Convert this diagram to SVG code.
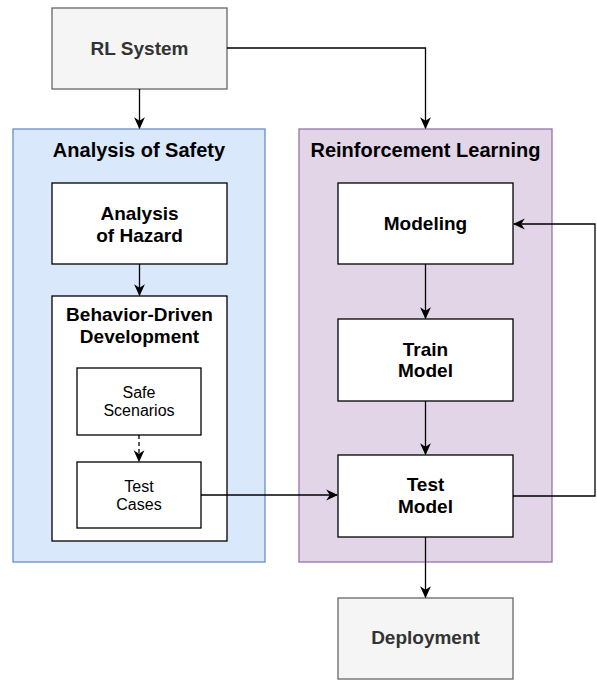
<svg xmlns="http://www.w3.org/2000/svg" width="597" height="681" viewBox="0 0 597 681">
<defs>
<style>
.t{font-family:"Liberation Sans",Arial,sans-serif;font-weight:bold;font-size:19px;text-anchor:middle;fill:#000}
.g{fill:#333}
.h{font-family:"Liberation Sans",Arial,sans-serif;font-weight:bold;font-size:20px;text-anchor:middle;fill:#000}
.r{font-family:"Liberation Sans",Arial,sans-serif;font-size:16px;text-anchor:middle;fill:#000}
.box{fill:#fff;stroke:#000;stroke-width:1.3}
.gbox{fill:#f5f5f5;stroke:#666;stroke-width:1.3}
.c{fill:none;stroke:#000;stroke-width:1.3}
</style>
<marker id="a" viewBox="0 0 10 10" refX="9" refY="5" markerWidth="12" markerHeight="12" markerUnits="userSpaceOnUse" orient="auto">
<path d="M0,0.5 L10,5 L0,9.5 L3,5 Z" fill="#000"/>
</marker>
</defs>
<g id="safety">
<rect x="13" y="129" width="252" height="433" fill="#dae8fc" stroke="#6c8ebf" stroke-width="1.3"/>
<text class="h" x="139" y="157">Analysis of Safety</text>
</g>
<g id="rl">
<rect x="299" y="129" width="253" height="433" fill="#e1d5e7" stroke="#9673a6" stroke-width="1.3"/>
<text class="h" x="425.5" y="157">Reinforcement Learning</text>
</g>
<g id="rlsystem">
<rect class="gbox" x="52" y="8" width="175" height="81"/>
<text class="t g" x="139.5" y="55">RL System</text>
</g>
<g id="hazard">
<rect class="box" x="52" y="183" width="175" height="81"/>
<text class="t" x="139.5" y="220">Analysis</text>
<text class="t" x="139.5" y="242">of Hazard</text>
</g>
<g id="bdd">
<rect class="box" x="52" y="296" width="175" height="245"/>
<text class="t" x="139.5" y="321">Behavior-Driven</text>
<text class="t" x="139.5" y="343">Development</text>
</g>
<g id="safe">
<rect class="box" x="77" y="368" width="124" height="67"/>
<text class="r" x="139" y="398">Safe</text>
<text class="r" x="139" y="416">Scenarios</text>
</g>
<g id="testcases">
<rect class="box" x="77" y="462" width="124" height="66"/>
<text class="r" x="139" y="492">Test</text>
<text class="r" x="139" y="510">Cases</text>
</g>
<g id="modeling">
<rect class="box" x="338" y="183" width="175" height="81"/>
<text class="t" x="425.5" y="230">Modeling</text>
</g>
<g id="train">
<rect class="box" x="338" y="319" width="175" height="82"/>
<text class="t" x="425.5" y="356">Train</text>
<text class="t" x="425.5" y="377">Model</text>
</g>
<g id="testmodel">
<rect class="box" x="338" y="455" width="175" height="82"/>
<text class="t" x="425.5" y="491">Test</text>
<text class="t" x="425.5" y="513">Model</text>
</g>
<g id="deployment">
<rect class="gbox" x="338" y="598" width="175" height="81"/>
<text class="t g" x="425.5" y="644">Deployment</text>
</g>
<g id="connectors">
<path class="c" d="M139.5,89 V128" marker-end="url(#a)"/>
<path class="c" d="M227,48 H425.5 V128" marker-end="url(#a)"/>
<path class="c" d="M139.5,264 V295" marker-end="url(#a)"/>
<path class="c" d="M139,435 V461" stroke-dasharray="4 3" marker-end="url(#a)"/>
<path class="c" d="M201,495 H337" marker-end="url(#a)"/>
<path class="c" d="M425.5,264 V318" marker-end="url(#a)"/>
<path class="c" d="M425.5,401 V454" marker-end="url(#a)"/>
<path class="c" d="M513,496 H595 V224 H514" marker-end="url(#a)"/>
<path class="c" d="M425.5,537 V597" marker-end="url(#a)"/>
</g>
</svg>
